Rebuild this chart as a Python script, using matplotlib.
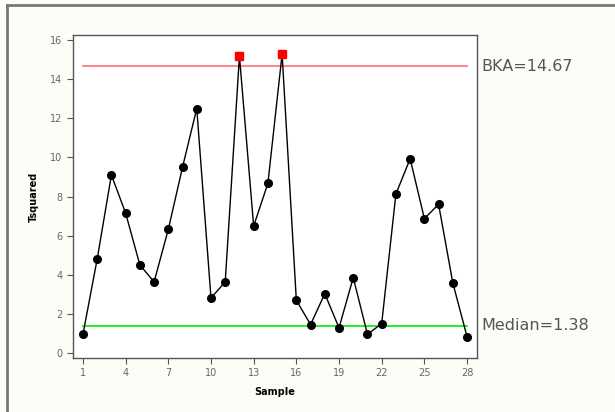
import matplotlib
matplotlib.use("Agg")
import matplotlib.pyplot as plt
from matplotlib.lines import Line2D
import numpy as np

samples = list(range(1, 29))
tsquared = [0.95, 4.8, 9.1, 7.15, 4.5, 3.63, 6.32, 9.5, 12.5, 2.81, 3.63, 15.18, 6.49, 8.67,
            15.29, 2.69, 1.45, 3.03, 1.28, 3.85, 0.95, 1.5, 8.13, 9.93, 6.87, 7.6, 3.58, 0.83]
bka = 14.67
median = 1.38
xticks = [1, 4, 7, 10, 13, 16, 19, 22, 25, 28]
yticks = [0, 2, 4, 6, 8, 10, 12, 14, 16]

fig = plt.figure(figsize=(6.15, 4.12), dpi=100)
fig.patch.set_facecolor('#fdfdf7')
ax = fig.add_axes([73/615, 54/412, 404/615, 323/412])
ax.set_facecolor('white')

# figure frame (top & left)
fig.add_artist(Line2D([6.5/615, 6.5/615], [0, 1 - 4.5/412], color='#777777', lw=2.0, transform=fig.transFigure))
fig.add_artist(Line2D([6.5/615, 1], [1 - 4.5/412, 1 - 4.5/412], color='#777777', lw=2.0, transform=fig.transFigure))

ax.plot([1, 28], [bka, bka], color='#ff7070', lw=1.2, zorder=2)
ax.plot([1, 28], [median, median], color='#00ee00', lw=1.2, zorder=2)
ax.plot(samples, tsquared, color='black', lw=1.0, zorder=3)
s = np.array(samples)
t = np.array(tsquared)
out = t > bka
ax.plot(s[~out], t[~out], 'o', color='black', ms=5.5, zorder=4)
ax.plot(s[out], t[out], 's', color='#ff0000', ms=5.2, zorder=4)

ax.set_xlim(0.3, 28.7)
ax.set_ylim(-0.26, 16.26)
ax.set_xticks(xticks)
ax.set_yticks(yticks)
ax.tick_params(labelsize=7, colors='#555555', labelcolor='#666666', direction='out', length=4, width=0.8)
for sp in ax.spines.values():
    sp.set_color('#555555')
    sp.set_linewidth(1.0)

ax.set_xlabel('Sample', fontsize=7, fontweight='bold', labelpad=6)
ax.set_ylabel('Tsquared', fontsize=7, fontweight='bold', labelpad=8)

ax.text(1.012, bka, 'BKA=14.67', transform=ax.get_yaxis_transform(), fontsize=11.5,
        color='#555555', va='center', ha='left')
ax.text(1.012, median, 'Median=1.38', transform=ax.get_yaxis_transform(), fontsize=11.5,
        color='#555555', va='center', ha='left')

fig.savefig('out.png', dpi=100, facecolor=fig.get_facecolor())
